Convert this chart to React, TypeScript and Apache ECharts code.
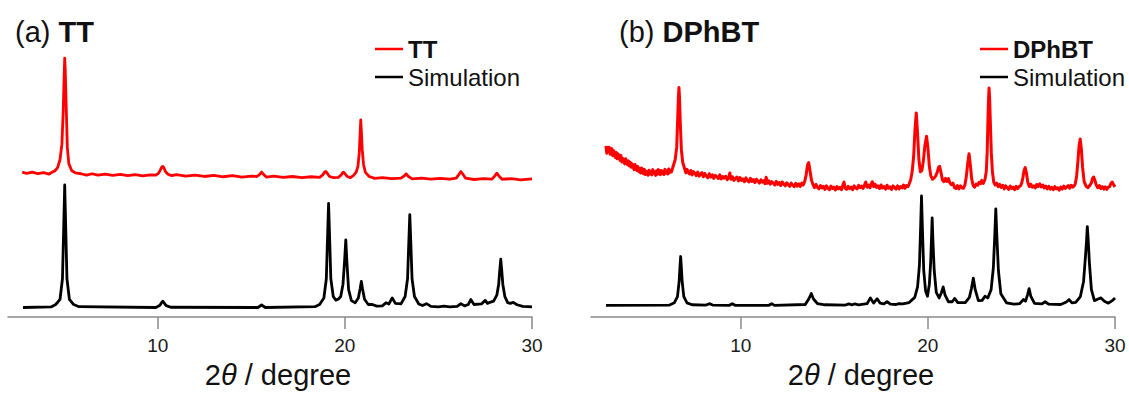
import React, { useEffect, useRef } from "react";
import * as echarts from "echarts";

// ---- data (2θ in degree, intensity in arbitrary units; experimental traces include their vertical offset) ----
const xTicks = [10, 20, 30];

const ttExperiment: number[][] = [
  [2.76, 52.9], [3.0, 52.4], [3.3, 52.9], [3.6, 52.3], [3.9, 52.7], [4.2, 52.2], [4.4, 53.0], [4.5, 53.3],
  [4.65, 54.5], [4.78, 57.5], [4.88, 63], [4.95, 75], [5.0, 88], [5.03, 94.5], [5.06, 90], [5.11, 77],
  [5.17, 62], [5.25, 56], [5.4, 53.5], [5.6, 52.6], [5.9, 52.3], [6.2, 51.8], [6.5, 52.3], [6.8, 51.8],
  [7.2, 52.2], [7.6, 51.7], [8.0, 52.1], [8.4, 51.6], [8.8, 52.0], [9.2, 51.5], [9.6, 51.9], [9.9, 51.8],
  [10.05, 52.5], [10.15, 53.8], [10.22, 54.8], [10.27, 55.0], [10.33, 54.5], [10.42, 53.0], [10.55, 52.1],
  [10.75, 51.6], [11.0, 52.0], [11.5, 51.4], [12.0, 51.8], [12.5, 51.3], [13.0, 51.7], [13.5, 51.2],
  [14.0, 51.6], [14.5, 51.1], [15.0, 51.4], [15.3, 51.3], [15.45, 52.1], [15.55, 52.9], [15.65, 52.1],
  [15.8, 51.1], [16.2, 51.4], [16.7, 51.0], [17.2, 51.3], [17.7, 50.9], [18.2, 51.2], [18.65, 51.0],
  [18.82, 51.9], [18.92, 52.9], [18.98, 53.1], [19.06, 52.5], [19.18, 51.3], [19.4, 50.9], [19.65, 51.0],
  [19.8, 51.8], [19.88, 52.7], [19.93, 52.9], [20.0, 52.3], [20.12, 51.3], [20.3, 50.9], [20.45, 51.6],
  [20.6, 52.8], [20.7, 55], [20.77, 60], [20.82, 67.5], [20.85, 71.9], [20.88, 68], [20.93, 61], [21.0, 55.5],
  [21.1, 52.8], [21.3, 51.3], [21.6, 50.6], [22.0, 50.9], [22.5, 50.5], [23.0, 50.7], [23.15, 51.4],
  [23.28, 52.25], [23.4, 51.3], [23.6, 50.4], [24.1, 50.7], [24.6, 50.3], [25.1, 50.6], [25.6, 50.3],
  [25.95, 50.7], [26.08, 51.9], [26.2, 53.1], [26.3, 52.2], [26.45, 50.7], [26.9, 50.2], [27.4, 50.5],
  [27.85, 50.3], [28.0, 51.4], [28.12, 52.5], [28.23, 51.5], [28.4, 50.3], [28.9, 50.5], [29.4, 50.1],
  [30.0, 50.4],
];

const ttSimulation: number[][] = [
  [2.8, 3.5], [4.3, 3.7], [4.55, 4.6], [4.78, 6.5], [4.91, 14], [4.97, 31], [5.03, 48.2], [5.09, 31],
  [5.15, 14], [5.28, 6.5], [5.5, 4.6], [5.8, 3.8], [9.9, 3.5], [10.12, 4.3], [10.2, 5.2], [10.27, 5.8],
  [10.34, 5.2], [10.45, 4.2], [10.7, 3.6], [15.35, 3.5], [15.55, 4.4], [15.75, 3.5], [18.4, 3.8],
  [18.65, 4.6], [18.88, 7], [19.01, 14], [19.07, 28], [19.13, 41.5], [19.19, 28], [19.25, 14], [19.38, 7.5],
  [19.52, 6.2], [19.66, 6.6], [19.78, 7.5], [19.9, 12], [19.99, 21], [20.05, 28.2], [20.11, 20], [20.2, 10],
  [20.35, 6], [20.55, 5.2], [20.72, 7], [20.82, 10.5], [20.88, 13], [20.94, 10.5], [21.05, 6.5], [21.25, 4.6],
  [21.47, 4.6], [21.7, 4.0], [22.0, 4.1], [22.2, 5.25], [22.35, 4.8], [22.53, 7.0], [22.7, 5.0], [23.0, 4.8],
  [23.22, 7.5], [23.35, 14], [23.41, 26], [23.47, 37.4], [23.53, 26], [23.59, 14], [23.72, 7.5], [23.95, 4.8],
  [24.15, 4.2], [24.36, 4.9], [24.6, 3.9], [25.0, 3.7], [25.3, 4.0], [25.6, 3.7], [26.0, 3.9], [26.2, 4.9],
  [26.4, 4.1], [26.6, 4.6], [26.73, 6.4], [26.9, 4.6], [27.3, 4.8], [27.5, 6.1], [27.62, 5.0], [27.75, 5.4],
  [27.95, 5.8], [28.12, 8], [28.22, 12], [28.27, 16.5], [28.33, 21.1], [28.39, 16.5], [28.44, 12],
  [28.55, 7.5], [28.7, 5.3], [28.85, 5.0], [29.0, 5.4], [29.2, 4.5], [29.5, 3.9], [30, 3.7],
];

const dphbtExperiment: number[][] = [
  [2.8, 62.5], [2.84, 59.8], [2.88, 61.9], [2.93, 60.6], [2.97, 62.0], [3.02, 59.4], [3.07, 60.8], [3.11, 61.5],
  [3.16, 58.9], [3.21, 60.7], [3.26, 59.6], [3.3, 58.2], [3.35, 60.1], [3.4, 57.8], [3.45, 59.5], [3.5, 58.7],
  [3.55, 57.2], [3.6, 59.0], [3.65, 56.6], [3.7, 57.9], [3.75, 57.1], [3.8, 55.9], [3.85, 57.8], [3.9, 56.3],
  [3.95, 55.6], [4.0, 57.0], [4.05, 55.1], [4.1, 56.5], [4.15, 54.7], [4.2, 55.9], [4.25, 55.2], [4.3, 53.8],
  [4.35, 55.7], [4.4, 54.3], [4.45, 53.5], [4.5, 55.0], [4.55, 53.1], [4.6, 54.2], [4.65, 52.6], [4.7, 54.4],
  [4.75, 53.3], [4.8, 52.3], [4.85, 53.9], [4.9, 52.0], [4.95, 53.2], [5.0, 52.6], [5.05, 51.8], [5.1, 53.6],
  [5.15, 52.2], [5.2, 53.0], [5.25, 51.9], [5.3, 53.8], [5.35, 52.5], [5.4, 52.9], [5.45, 51.7], [5.5, 53.4],
  [5.55, 52.1], [5.6, 53.8], [5.65, 52.4], [5.7, 52.0], [5.75, 53.5], [5.8, 52.3], [5.85, 53.1], [5.9, 52.0],
  [5.95, 53.9], [6.0, 52.6], [6.05, 53.3], [6.1, 52.2], [6.15, 54.0], [6.2, 52.7], [6.25, 53.6], [6.3, 53.0],
  [6.4, 55.2], [6.5, 57.5], [6.58, 62], [6.63, 72], [6.67, 80], [6.7, 83.8], [6.73, 80], [6.77, 71],
  [6.83, 61], [6.9, 56.5], [7.0, 54.2], [7.07, 52.6], [7.13, 53.9], [7.2, 52.9], [7.26, 52.2], [7.33, 53.5],
  [7.4, 51.9], [7.47, 53.1], [7.55, 52.5], [7.62, 51.6], [7.7, 52.9], [7.78, 51.4], [7.85, 52.2], [7.93, 52.7],
  [8.0, 51.2], [8.08, 52.4], [8.16, 51.5], [8.24, 50.8], [8.32, 52.3], [8.4, 51.1], [8.48, 51.9], [8.56, 50.6],
  [8.64, 51.7], [8.72, 51.2], [8.8, 50.5], [8.88, 51.9], [8.96, 50.4], [9.04, 51.3], [9.12, 50.7], [9.2, 51.4],
  [9.28, 50.1], [9.36, 51.0], [9.42, 52.6], [9.48, 50.3], [9.56, 51.2], [9.64, 49.9], [9.72, 50.6], [9.8, 51.1],
  [9.88, 49.7], [9.96, 50.9], [10.04, 49.9], [10.12, 50.4], [10.2, 49.4], [10.28, 50.8], [10.36, 49.8],
  [10.44, 49.3], [10.52, 50.6], [10.6, 49.5], [10.68, 50.2], [10.76, 49.1], [10.84, 50.3], [10.92, 49.6],
  [11.0, 48.9], [11.08, 50.1], [11.16, 49.2], [11.24, 49.8], [11.3, 48.7], [11.36, 51.0], [11.42, 48.8],
  [11.5, 49.7], [11.58, 48.5], [11.66, 49.4], [11.74, 48.9], [11.82, 48.2], [11.9, 49.5], [11.98, 48.4],
  [12.06, 49.1], [12.14, 48.0], [12.22, 49.3], [12.3, 48.5], [12.38, 47.9], [12.46, 49.0], [12.54, 48.3],
  [12.62, 47.7], [12.7, 48.9], [12.78, 48.1], [12.86, 47.6], [12.94, 48.8], [13.02, 47.8], [13.1, 48.6],
  [13.18, 47.7], [13.26, 48.9], [13.34, 48.2], [13.42, 49.5], [13.5, 52.0], [13.57, 55.5], [13.63, 56.4],
  [13.7, 53.5], [13.78, 50.0], [13.86, 48.4], [13.94, 47.2], [14.02, 48.4], [14.1, 47.3], [14.18, 46.8],
  [14.26, 48.0], [14.34, 47.1], [14.42, 47.7], [14.5, 46.6], [14.58, 47.9], [14.66, 47.0], [14.74, 46.5],
  [14.82, 47.8], [14.9, 46.9], [14.98, 47.4], [15.06, 46.4], [15.14, 47.6], [15.22, 46.8], [15.3, 47.3],
  [15.38, 46.5], [15.45, 47.9], [15.52, 49.3], [15.58, 47.0], [15.66, 46.6], [15.74, 47.7], [15.82, 46.9],
  [15.9, 47.4], [15.98, 46.5], [16.06, 47.9], [16.14, 47.1], [16.22, 46.8], [16.3, 48.1], [16.38, 47.2],
  [16.46, 47.8], [16.54, 46.9], [16.62, 48.3], [16.68, 49.3], [16.75, 47.4], [16.83, 48.2], [16.91, 47.2],
  [16.97, 48.6], [17.03, 49.4], [17.1, 47.6], [17.18, 48.5], [17.26, 47.3], [17.34, 47.9], [17.42, 46.9],
  [17.5, 48.2], [17.58, 47.1], [17.66, 47.6], [17.74, 46.7], [17.82, 48.1], [17.9, 47.0], [17.98, 47.5],
  [18.06, 46.6], [18.14, 47.9], [18.22, 47.2], [18.3, 46.7], [18.38, 47.9], [18.46, 46.8], [18.54, 47.6],
  [18.62, 47.1], [18.7, 48.2], [18.78, 47.0], [18.86, 48.0], [18.94, 47.6], [19.0, 48.6], [19.08, 50.0],
  [19.16, 53.0], [19.24, 58.5], [19.31, 68], [19.38, 74.5], [19.45, 67], [19.52, 57.5], [19.6, 53.0],
  [19.68, 53.5], [19.76, 57], [19.84, 62.5], [19.93, 66.0], [20.0, 62], [20.08, 55], [20.16, 51.5],
  [20.25, 50.3], [20.34, 50.8], [20.42, 51.5], [20.5, 52.8], [20.57, 54.6], [20.63, 55.0], [20.7, 52.8],
  [20.78, 50.0], [20.86, 49.4], [20.94, 50.6], [21.02, 49.5], [21.1, 50.5], [21.18, 48.9], [21.26, 48.3],
  [21.34, 48.9], [21.42, 47.3], [21.5, 46.9], [21.58, 48.0], [21.66, 46.8], [21.74, 47.9], [21.82, 47.2],
  [21.9, 47.0], [21.98, 48.2], [22.05, 51], [22.12, 55.5], [22.2, 59.6], [22.27, 55.5], [22.34, 50.5],
  [22.42, 48.0], [22.5, 47.4], [22.58, 48.5], [22.66, 48.1], [22.74, 49.2], [22.82, 48.7], [22.88, 49.9],
  [22.96, 48.8], [23.05, 50.2], [23.12, 53], [23.17, 60], [23.21, 72], [23.245, 80], [23.27, 83.6],
  [23.3, 80], [23.34, 71], [23.39, 60], [23.45, 53], [23.52, 49.3], [23.6, 48.2], [23.68, 48.9], [23.76, 47.6],
  [23.84, 48.4], [23.92, 47.3], [24.0, 48.1], [24.08, 46.8], [24.16, 47.9], [24.24, 47.2], [24.32, 46.6],
  [24.4, 47.8], [24.48, 46.9], [24.56, 47.4], [24.64, 46.5], [24.72, 47.7], [24.8, 46.9], [24.88, 47.6],
  [24.95, 47.9], [25.02, 49.0], [25.08, 51.0], [25.14, 53.5], [25.2, 54.6], [25.27, 52.5], [25.34, 49.2],
  [25.42, 47.6], [25.5, 48.5], [25.58, 47.4], [25.66, 47.9], [25.74, 47.1], [25.82, 48.4], [25.9, 47.6],
  [25.98, 48.6], [26.06, 47.5], [26.14, 48.2], [26.22, 47.1], [26.3, 47.8], [26.38, 46.8], [26.46, 47.7],
  [26.54, 46.7], [26.62, 47.3], [26.7, 46.5], [26.78, 47.6], [26.86, 46.8], [26.94, 47.2], [27.02, 46.3],
  [27.1, 47.4], [27.18, 46.7], [27.26, 47.8], [27.34, 46.9], [27.42, 47.5], [27.5, 48.0], [27.58, 47.0],
  [27.66, 48.1], [27.74, 47.4], [27.82, 47.9], [27.88, 48.7], [27.95, 51.5], [28.02, 57], [28.08, 62.5],
  [28.14, 65.0], [28.2, 61.5], [28.27, 54.5], [28.35, 49.5], [28.45, 47.8], [28.55, 47.2], [28.65, 48.0],
  [28.74, 49.0], [28.8, 50.6], [28.86, 51.1], [28.92, 50.0], [29.0, 48.2], [29.08, 47.2], [29.16, 48.0],
  [29.24, 46.9], [29.32, 47.6], [29.4, 46.7], [29.48, 47.5], [29.56, 46.6], [29.64, 47.4], [29.72, 47.6],
  [29.78, 48.8], [29.85, 49.3], [29.92, 48.4], [30.0, 47.5],
];

const dphbtSimulation: number[][] = [
  [2.8, 4.3], [6.2, 4.4], [6.45, 5.2], [6.62, 7.5], [6.71, 13], [6.75, 18], [6.79, 22.1], [6.83, 18],
  [6.87, 13], [6.96, 7.5], [7.13, 5.2], [7.4, 4.5], [8.15, 4.4], [8.32, 4.9], [8.5, 4.4], [9.4, 4.3],
  [9.55, 4.9], [9.7, 4.3], [11.5, 4.3], [11.66, 4.9], [11.8, 4.3], [13.45, 4.6], [13.65, 6.8], [13.77, 8.6],
  [13.89, 6.6], [14.1, 4.9], [14.5, 4.5], [15.6, 4.4], [15.77, 4.8], [15.95, 4.5], [16.1, 4.8], [16.3, 4.5],
  [16.75, 4.9], [16.93, 7.0], [17.1, 5.1], [17.29, 6.7], [17.45, 5.1], [17.65, 4.8], [17.82, 5.6], [18.0, 4.7],
  [18.3, 4.6], [18.45, 4.9], [18.65, 4.8], [19.0, 5.3], [19.3, 7.2], [19.45, 11], [19.55, 19], [19.61, 32],
  [19.66, 44.2], [19.71, 32], [19.78, 17], [19.88, 9.5], [19.98, 7.6], [20.08, 12], [20.15, 20], [20.19, 28],
  [20.23, 36.2], [20.27, 28], [20.34, 17], [20.45, 9], [20.6, 7], [20.72, 8.8], [20.82, 11.0], [20.92, 8],
  [21.1, 5.6], [21.3, 5.6], [21.43, 6.8], [21.6, 5.3], [22.0, 5.3], [22.22, 7.2], [22.33, 10.5], [22.43, 14.2],
  [22.53, 10], [22.7, 6.0], [22.9, 6.1], [23.05, 7.6], [23.2, 7.0], [23.38, 10], [23.5, 18], [23.57, 29],
  [23.63, 39.5], [23.69, 29], [23.77, 17], [23.9, 8.5], [24.2, 5.2], [24.6, 4.7], [24.9, 4.9], [25.11, 6.4],
  [25.22, 5.8], [25.33, 8.2], [25.41, 10.4], [25.5, 7.6], [25.7, 5.0], [26.1, 4.8], [26.27, 5.6],
  [26.45, 4.7], [27.1, 4.6], [27.4, 5.5], [27.55, 6.4], [27.7, 5.2], [27.9, 5.4], [28.15, 7.5], [28.32, 13],
  [28.42, 22], [28.48, 28], [28.52, 33.0], [28.57, 28], [28.63, 20], [28.74, 10], [28.9, 6.0], [29.1, 6.6],
  [29.25, 7.0], [29.45, 5.7], [29.65, 5.1], [29.85, 6.0], [30.0, 7.0],
];

const FONT = "'Liberation Sans', Arial, Helvetica, sans-serif";
const RED = "#ff0000";
const BLACK = "#000000";

function makeXAxis(gridIndex: number) {
  return {
    type: "value",
    gridIndex,
    min: 2,
    max: 30,
    axisLine: { show: true, lineStyle: { color: "#8a8a8a", width: 1.5 } },
    axisTick: { show: true, inside: false, length: 12, customValues: xTicks, lineStyle: { color: "#8a8a8a", width: 1.5 } },
    axisLabel: { show: true, customValues: xTicks, fontSize: 19, color: "#1a1a1a", fontFamily: FONT, margin: 19 },
    splitLine: { show: false },
    name: "2{i|θ} / degree",
    nameLocation: "middle",
    nameGap: 37,
    nameTextStyle: {
      fontSize: 29,
      color: "#111",
      fontFamily: FONT,
      padding: [0, 0, 0, 16],
      rich: { i: { fontStyle: "italic", fontSize: 29, color: "#111", fontFamily: FONT } },
    },
  };
}

function makeYAxis(gridIndex: number) {
  return { type: "value", gridIndex, min: 0, max: 100, show: false, splitLine: { show: false } };
}

function lineSeries(name: string, data: number[][], color: string, idx: number, width: number) {
  return {
    type: "line",
    name,
    data,
    xAxisIndex: idx,
    yAxisIndex: idx,
    color,
    showSymbol: false,
    symbol: "none",
    lineStyle: { color, width, join: "round" },
    silent: true,
  };
}

function makeLegend(left: number, names: string[]) {
  return {
    data: names,
    left,
    top: 31,
    orient: "vertical",
    icon: "rect",
    itemWidth: 28,
    itemHeight: 2.5,
    itemGap: 2,
    selectedMode: false,
    formatter: (name: string) => (name === "Simulation" ? name : `{b|${name}}`),
    textStyle: {
      fontSize: 24,
      lineHeight: 26,
      color: "#111",
      fontFamily: FONT,
      rich: { b: { fontSize: 24, lineHeight: 26, fontWeight: "bold", color: "#111", fontFamily: FONT } },
    },
  };
}

function makeTitle(left: number, label: string, sample: string) {
  return {
    text: `${label} {b|${sample}}`,
    left,
    top: 11,
    textStyle: {
      fontSize: 29,
      lineHeight: 32,
      fontWeight: "normal",
      color: "#111",
      fontFamily: FONT,
      rich: { b: { fontSize: 29, lineHeight: 32, fontWeight: "bold", color: "#111", fontFamily: FONT } },
    },
  };
}

export default function App() {
  const ref = useRef<HTMLDivElement>(null);
  useEffect(() => {
    if (!ref.current) return;
    const chart = echarts.init(ref.current, null, { renderer: "svg" });
    chart.setOption({
      animation: false,
      backgroundColor: "#ffffff",
      title: [makeTitle(10, "(a)", "TT"), makeTitle(614, "(b)", "DPhBT")],
      legend: [makeLegend(370, ["TT", "Simulation"]), makeLegend(975, ["DPhBT", "Simulation"])],
      grid: [
        { left: 8, right: 597, top: 43, bottom: 71, containLabel: false },
        { left: 591, right: 14, top: 43, bottom: 71, containLabel: false },
      ],
      xAxis: [makeXAxis(0), makeXAxis(1)],
      yAxis: [makeYAxis(0), makeYAxis(1)],
      series: [
        lineSeries("TT", ttExperiment, RED, 0, 2.8),
        lineSeries("Simulation", ttSimulation, BLACK, 0, 2.8),
        lineSeries("DPhBT", dphbtExperiment, RED, 1, 3),
        lineSeries("Simulation", dphbtSimulation, BLACK, 1, 2.8),
      ],
    });
    return () => chart.dispose();
  }, []);
  return <div ref={ref} style={{ position: "absolute", left: 0, top: 0, width: 1129, height: 394 }} />;
}
